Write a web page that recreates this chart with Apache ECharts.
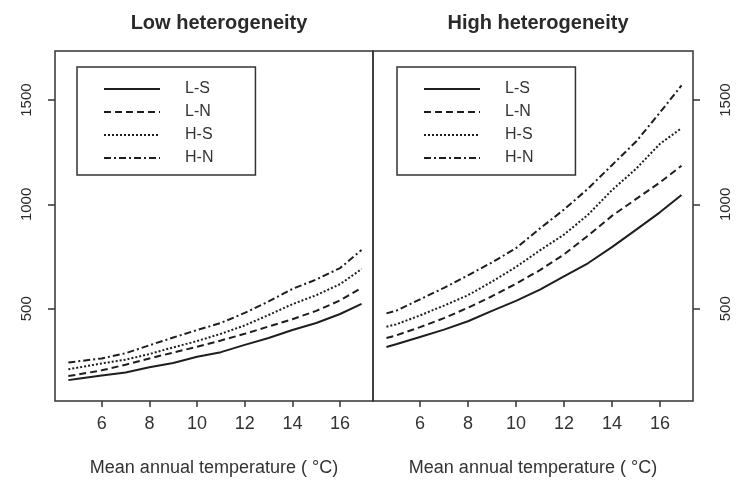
<!DOCTYPE html>
<html lang="en">
<head>
    <meta charset="UTF-8">
    <title>Heterogeneity</title>
    <script src="https://cdn.jsdelivr.net/npm/echarts@6/dist/echarts.min.js"></script>
    <style>
        html, body { margin: 0; padding: 0; background: #fff; }
    </style>
</head>
<body>
<div id="main" style="width: 748px;height:482px;"></div>
<script>
    // mean annual temperature (x), same for every curve
    var temps = [4.6, 5, 6, 7, 8, 9, 10, 11, 12, 13, 14, 15, 16, 16.9];

    // low heterogeneity panel
    var lowLS = [158, 165, 180, 195, 220, 240, 270, 292, 327, 360, 398, 432, 475, 523];
    var lowLN = [178, 185, 205, 232, 262, 290, 318, 348, 380, 415, 450, 490, 540, 600];
    var lowHS = [210, 218, 238, 256, 283, 315, 345, 380, 420, 470, 522, 565, 618, 690];
    var lowHN = [242, 248, 262, 287, 325, 362, 398, 432, 480, 535, 595, 640, 695, 782];

    // high heterogeneity panel
    var highLS = [317, 330, 365, 400, 440, 490, 538, 592, 655, 718, 795, 878, 962, 1045];
    var highLN = [360, 372, 412, 455, 505, 560, 620, 685, 760, 850, 945, 1025, 1105, 1185];
    var highHS = [414, 425, 468, 515, 565, 630, 700, 780, 855, 950, 1068, 1170, 1290, 1365];
    var highHN = [478, 490, 545, 600, 660, 722, 790, 885, 975, 1075, 1188, 1300, 1440, 1570];

    var names = ['L-S', 'L-N', 'H-S', 'H-N'];
    var xTicks = [6, 8, 10, 12, 14, 16];
    var yTicks = [500, 1000, 1500];

    var dashes = ['solid', [7, 4], [2, 2], [7, 3, 2, 3]];
    var ink = '#1e1e1e';
    var txt = '#333';

    function pairs(ys) {
        return ys.map(function (v, i) { return [temps[i], v]; });
    }

    function makeSeries(list, idx) {
        return list.map(function (ys, k) {
            return {
                name: names[k],
                type: 'line',
                xAxisIndex: idx,
                yAxisIndex: idx,
                data: pairs(ys),
                symbol: 'none',
                smooth: false,
                lineStyle: { color: ink, width: 2, type: dashes[k] },
                itemStyle: { color: ink }
            };
        });
    }

    function xAxis(idx) {
        return {
            type: 'value',
            gridIndex: idx,
            min: 4.04,
            max: 17.38,
            name: 'Mean annual temperature ( \u00b0C)',
            nameLocation: 'middle',
            nameGap: 58,
            nameTextStyle: { fontFamily: 'Liberation Sans', fontSize: 18, color: txt },
            splitLine: { show: false },
            axisLine: { show: false },
            axisTick: { show: true, length: 6, lineStyle: { color: '#333', width: 1.5 }, customValues: xTicks },
            axisLabel: { fontFamily: 'Liberation Sans', fontSize: 18, color: txt, margin: 14, customValues: xTicks }
        };
    }

    function yAxis(idx, pos, margin) {
        return {
            type: 'value',
            gridIndex: idx,
            position: pos,
            min: 58,
            max: 1735,
            splitLine: { show: false },
            axisLine: { show: false },
            axisTick: { show: true, length: 7, lineStyle: { color: '#333', width: 1.5 }, customValues: yTicks },
            axisLabel: {
                fontFamily: 'Liberation Sans', fontSize: 15, color: '#2a2a2a', rotate: 90, margin: margin,
                customValues: yTicks,
                formatter: function (v) { return String(v); }
            }
        };
    }

    function legend(left) {
        return {
            data: names,
            orient: 'vertical',
            left: left,
            top: 67,
            itemWidth: 56,
            itemHeight: 14,
            itemGap: 7,
            padding: [14, 42, 9, 26],
            borderColor: '#333',
            borderWidth: 1.5,
            selectedMode: false,
            itemStyle: { opacity: 0 },
            lineStyle: { width: 2 },
            textStyle: { fontFamily: 'Liberation Sans', fontSize: 16, color: txt, padding: [0, 0, 0, 20] }
        };
    }

    var myChart = echarts.init(document.getElementById('main'));
    myChart.setOption({
        backgroundColor: '#fff',
        animation: false,
        title: [{
            text: 'Low heterogeneity',
            left: 214,
            top: 8,
            textAlign: 'center',
            textStyle: { fontFamily: 'Liberation Sans', fontSize: 20, fontWeight: 'bold', color: '#2a2a2a' }
        }, {
            text: 'High heterogeneity',
            left: 533,
            top: 8,
            textAlign: 'center',
            textStyle: { fontFamily: 'Liberation Sans', fontSize: 20, fontWeight: 'bold', color: '#2a2a2a' }
        }],
        legend: [legend(77), legend(397)],
        grid: [
            { left: 55, top: 51, width: 318, height: 350, show: true, borderColor: '#333', borderWidth: 1.5, backgroundColor: 'transparent' },
            { left: 373, top: 51, width: 320, height: 350, show: true, borderColor: '#333', borderWidth: 1.5, backgroundColor: 'transparent' }
        ],
        xAxis: [xAxis(0), xAxis(1)],
        yAxis: [yAxis(0, 'left', 21), yAxis(1, 'right', 25)],
        series: makeSeries([lowLS, lowLN, lowHS, lowHN], 0)
            .concat(makeSeries([highLS, highLN, highHS, highHN], 1))
    });
</script>
</body>
</html>
